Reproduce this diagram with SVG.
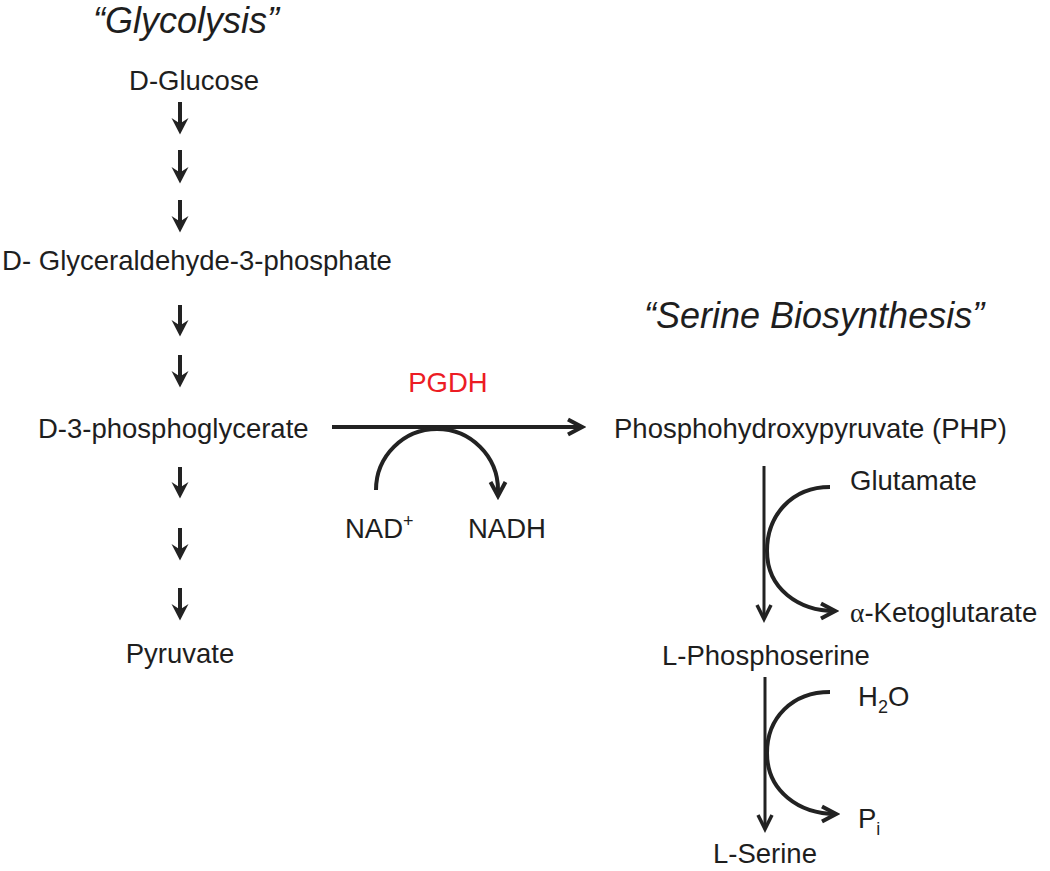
<svg xmlns="http://www.w3.org/2000/svg" width="1050" height="871" viewBox="0 0 1050 871">
<style>
  text { font-family: "Liberation Sans", Arial, sans-serif; font-size: 27.5px; fill: #1e1e1e; }
  .title { font-style: italic; font-size: 36px; }
  .enz { fill: #ec1c24; }
  .mid { text-anchor: middle; }
  .sub { font-size: 18px; }
  .greek { font-family: "Liberation Serif", "Times New Roman", serif; }
  .ln { fill: none; stroke: #222; stroke-linecap: butt; }
  .thick { stroke-width: 4; }
  .thin { stroke-width: 3; }
</style>
<defs>
  <marker id="head" markerUnits="userSpaceOnUse" viewBox="0 0 17 18" markerWidth="17" markerHeight="18" refX="12" refY="9" orient="auto">
    <path d="M0,0.5 L16.5,9 L0,17.5 L5.5,9 Z" fill="#222"/>
  </marker>
  <marker id="chev" markerUnits="userSpaceOnUse" viewBox="0 0 20 20" markerWidth="20" markerHeight="20" refX="16" refY="10" orient="auto">
    <path d="M2,2.5 L16,10 L2,17.5" fill="none" stroke="#222" stroke-width="4" stroke-linejoin="miter"/>
  </marker>
  <marker id="chevThin" markerUnits="userSpaceOnUse" viewBox="0 0 20 20" markerWidth="20" markerHeight="20" refX="16" refY="10" orient="auto">
    <path d="M2,3 L16,10 L2,17" fill="none" stroke="#222" stroke-width="3.5" stroke-linejoin="miter"/>
  </marker>
</defs>

<g id="titles">
  <text class="title" x="93" y="33">“Glycolysis”</text>
  <text class="title" x="644" y="328">“Serine Biosynthesis”</text>
</g>

<g id="node-glucose"><text class="mid" x="194" y="90">D-Glucose</text></g>
<g id="node-g3p"><text class="mid" x="197" y="270">D- Glyceraldehyde-3-phosphate</text></g>
<g id="node-3pg"><text x="38" y="438">D-3-phosphoglycerate</text></g>
<g id="node-pyruvate"><text class="mid" x="180" y="663">Pyruvate</text></g>
<g id="node-pgdh"><text class="enz mid" x="448" y="392">PGDH</text></g>
<g id="node-nad"><text x="345" y="538">NAD<tspan class="sub" dy="-11">+</tspan></text></g>
<g id="node-nadh"><text x="468" y="538">NADH</text></g>
<g id="node-php"><text x="614" y="438">Phosphohydroxypyruvate (PHP)</text></g>
<g id="node-glutamate"><text x="850" y="490">Glutamate</text></g>
<g id="node-akg"><text x="850" y="622"><tspan class="greek">α</tspan>-Ketoglutarate</text></g>
<g id="node-pser"><text x="662" y="665">L-Phosphoserine</text></g>
<g id="node-h2o"><text x="858" y="706">H<tspan class="sub" dy="7">2</tspan><tspan dy="-7">O</tspan></text></g>
<g id="node-pi"><text x="858" y="828">P<tspan class="sub" dy="7">i</tspan></text></g>
<g id="node-serine"><text x="713" y="863">L-Serine</text></g>

<g id="connectors">
  <!-- glycolysis steps -->
  <line class="ln thick" x1="180" y1="102" x2="180" y2="130" marker-end="url(#head)"/>
  <line class="ln thick" x1="180" y1="150" x2="180" y2="179" marker-end="url(#head)"/>
  <line class="ln thick" x1="180" y1="200" x2="180" y2="228" marker-end="url(#head)"/>
  <line class="ln thick" x1="180" y1="305" x2="180" y2="332" marker-end="url(#head)"/>
  <line class="ln thick" x1="180" y1="355" x2="180" y2="383" marker-end="url(#head)"/>
  <line class="ln thick" x1="180" y1="467" x2="180" y2="494" marker-end="url(#head)"/>
  <line class="ln thick" x1="180" y1="528" x2="180" y2="556" marker-end="url(#head)"/>
  <line class="ln thick" x1="180" y1="588" x2="180" y2="616" marker-end="url(#head)"/>

  <!-- PGDH reaction -->
  <line class="ln thick" x1="332" y1="427" x2="582" y2="427" marker-end="url(#chev)"/>
  <path class="ln thick" d="M376,490 A61,61 0 0 1 498,490 L498,496" marker-end="url(#chev)"/>

  <!-- PHP to L-Phosphoserine -->
  <line class="ln thin" x1="764" y1="466" x2="764" y2="619" marker-end="url(#chevThin)"/>
  <path class="ln thick" d="M830,487 C792,487 767,515 767,551 C767,589 799,611 835,611" marker-end="url(#chev)"/>

  <!-- L-Phosphoserine to L-Serine -->
  <line class="ln thin" x1="765" y1="677" x2="765" y2="829" marker-end="url(#chevThin)"/>
  <path class="ln thick" d="M830,692 C792,692 767,718 767,753 C767,791 799,814 836,814" marker-end="url(#chev)"/>
</g>
</svg>
